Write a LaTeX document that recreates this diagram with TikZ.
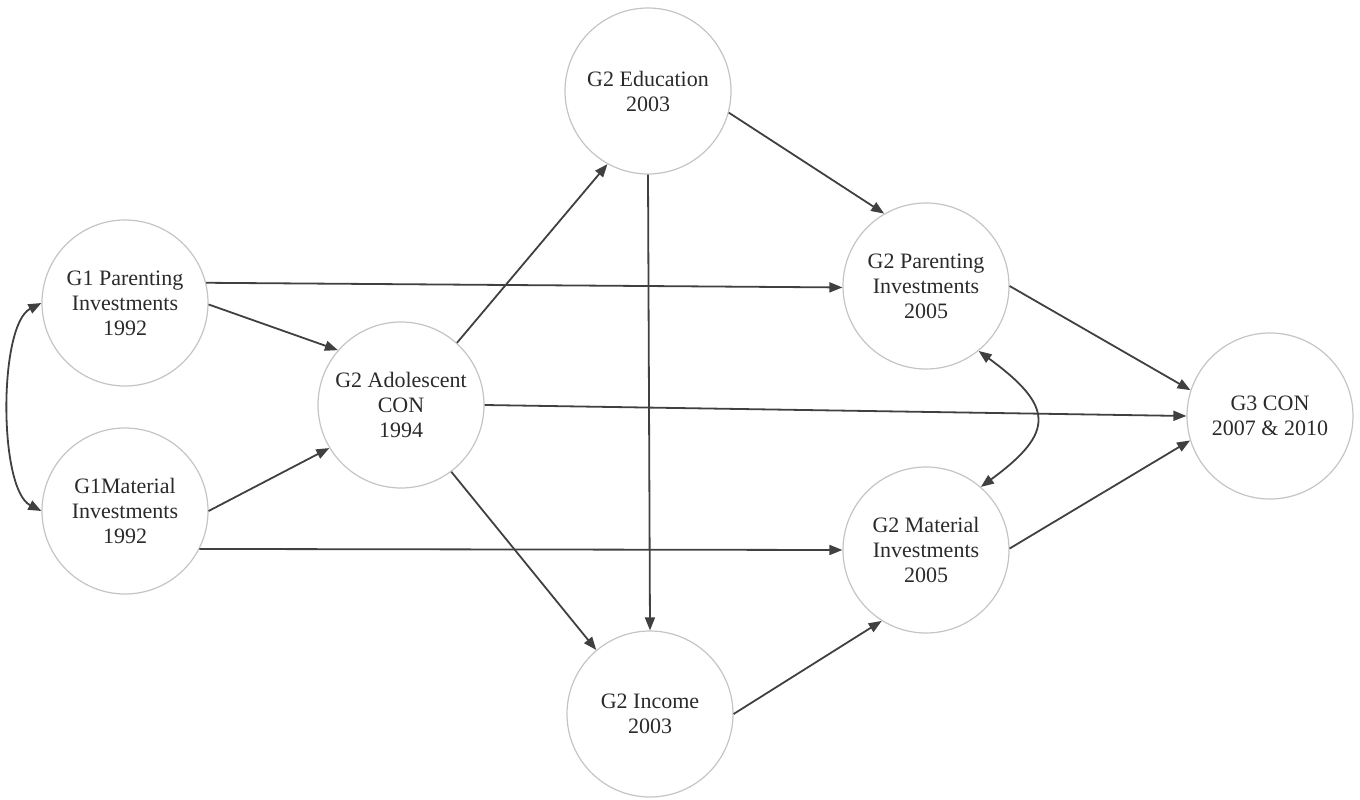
\documentclass[tikz,border=0pt]{standalone}
\usepackage{fontspec}
\setmainfont{Liberation Serif}
\newfontfamily\timesx{Liberation Serif}
\usetikzlibrary{arrows.meta}
\definecolor{linec}{HTML}{404040}
\definecolor{circc}{HTML}{C4C4C4}
\definecolor{textc}{HTML}{2A2A2A}
\begin{document}
\begin{tikzpicture}[x=1pt,y=-1pt,
 var/.style={circle,draw=circc,line width=1.2pt,minimum size=166pt,inner sep=0pt,align=center,font=\timesx\fontsize{22}{25}\selectfont,text=textc},
 pathar/.style={draw=linec,line width=1.8pt,-{Triangle[length=13pt,width=10pt]}},
 covar/.style={draw=linec,line width=1.8pt,{Triangle[length=13pt,width=10pt]}-{Triangle[length=13pt,width=10pt]}}]
\useasboundingbox (0,0) rectangle (1360,800);
\node[var] (g1p) at (125,303) {G1 Parenting\\Investments\\1992};
\node[var] (g1m) at (125,511) {G1Material\\Investments\\1992};
\node[var] (adol) at (401,405) {G2 Adolescent\\CON\\1994};
\node[var] (edu) at (648,91) {G2 Education\\2003};
\node[var] (inc) at (650,714) {G2 Income\\2003};
\node[var] (g2p) at (926,286) {G2 Parenting\\Investments\\2005};
\node[var] (g2m) at (926,550) {G2 Material\\Investments\\2005};
\node[var] (g3) at (1270,416) {G3 CON\\2007 \& 2010};

\draw[pathar] (g1p.14) -- (g2p.181);
\draw[pathar] (g1p.-1) -- (adol.139);
\draw[pathar] (g1m.0) -- (adol.211);
\draw[pathar] (g1m.-27) -- (g2m.180);
\draw[covar] (g1p.180) .. controls +(-43,22) and +(-43,-22) .. (g1m.180);
\draw[pathar] (adol.48) -- (edu.241);
\draw[pathar] (adol.0) -- (g3.180);
\draw[pathar] (adol.-53) -- (inc.130);
\draw[pathar] (edu.-90) -- (inc.90);
\draw[pathar] (edu.-15) -- (g2p.120);
\draw[pathar] (g2p.0) -- (g3.162);
\draw[pathar] (g2m.1) -- (g3.197);
\draw[pathar] (inc.0) -- (g2m.238);
\draw[covar] (g2p.-51) .. controls +(75,55) and +(75,-55) .. (g2m.49);
\end{tikzpicture}
\end{document}
